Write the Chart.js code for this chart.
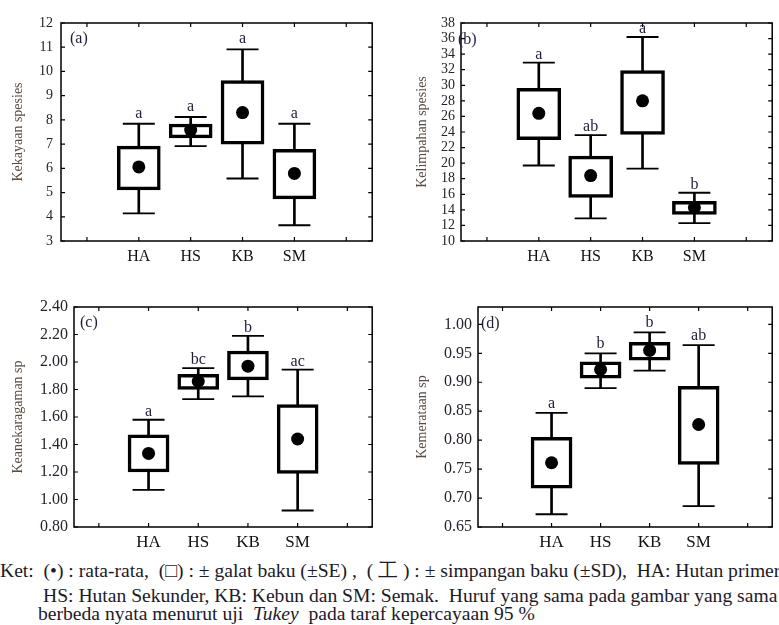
<!DOCTYPE html>
<html>
<head>
<meta charset="utf-8">
<script src="https://cdn.jsdelivr.net/npm/chart.js@4"></script>
<style>
  html, body { margin: 0; padding: 0; background: #fff; }
  body { width: 779px; height: 625px; position: relative; overflow: hidden; }
  canvas { position: absolute; }
  .ket { position: absolute; white-space: pre; font: 19.6px 'Liberation Serif', 'Times New Roman', serif; line-height: 20px; color: #1c1a2a; }
</style>
</head>
<body>
<canvas id="chartA" width="390" height="270" style="left:0;top:0"></canvas>
<canvas id="chartB" width="400" height="270" style="left:390px;top:0"></canvas>
<canvas id="chartC" width="390" height="275" style="left:0;top:280px"></canvas>
<canvas id="chartD" width="400" height="275" style="left:390px;top:280px"></canvas>

<div class="ket" style="left:0;top:561px">Ket:  (•) : rata-rata,  (□) : ± galat baku (±SE) ,  ( 工 ) : ± simpangan baku (±SD),  HA: Hutan primer,</div>
<div class="ket" style="left:43px;top:586px">HS: Hutan Sekunder, KB: Kebun dan SM: Semak.  Huruf yang sama pada gambar yang sama</div>
<div class="ket" style="left:38px;top:604px">berbeda nyata menurut uji  <i>Tukey</i>  pada taraf kepercayaan 95 %</div>

<script>
const sites = ['HA', 'HS', 'KB', 'SM'];

// (a) kekayaan spesies
const kekayaanMean = [6.06, 7.58, 8.30, 5.79];
const kekayaanSE = [[5.11, 6.92], [7.26, 7.83], [7.00, 9.62], [4.74, 6.78]];
const kekayaanSD = [[4.14, 7.84], [6.92, 8.12], [5.58, 10.91], [3.65, 7.84]];
const kekayaanHuruf = ['a', 'a', 'a', 'a'];

// (b) kelimpahan spesies
const kelimpahanMean = [26.4, 18.4, 28.0, 14.3];
const kelimpahanSE = [[23.0, 29.6], [15.6, 20.9], [23.7, 31.9], [13.4, 15.1]];
const kelimpahanSD = [[19.7, 32.9], [12.9, 23.6], [19.3, 36.2], [12.3, 16.2]];
const kelimpahanHuruf = ['a', 'ab', 'a', 'b'];

// (c) keanekaragaman
const keanekaragamanMean = [1.335, 1.86, 1.97, 1.44];
const keanekaragamanSE = [[1.20, 1.47], [1.80, 1.91], [1.87, 2.08], [1.19, 1.69]];
const keanekaragamanSD = [[1.07, 1.58], [1.73, 1.955], [1.75, 2.19], [0.92, 1.945]];
const keanekaragamanHuruf = ['a', 'bc', 'b', 'ac'];

// (d) kemerataan
const kemerataanMean = [0.761, 0.922, 0.955, 0.827];
const kemerataanSE = [[0.717, 0.805], [0.907, 0.9355], [0.938, 0.969], [0.758, 0.893]];
const kemerataanSD = [[0.672, 0.847], [0.89, 0.95], [0.92, 0.986], [0.686, 0.964]];
const kemerataanHuruf = ['a', 'b', 'b', 'ab'];

const serif = "'Liberation Serif', 'Times New Roman', serif";

// box frame with small inward ticks
const framePlugin = {
  id: 'frame',
  beforeDatasetsDraw(chart) {
    const { ctx, chartArea: a, scales: { x, y } } = chart;
    ctx.save();
    ctx.strokeStyle = '#000';
    ctx.lineWidth = 1.5;
    ctx.strokeRect(a.left, a.top, a.right - a.left, a.bottom - a.top);
    ctx.lineWidth = 1.2;
    ctx.beginPath();
    y.ticks.forEach((t, i) => {
      const py = y.getPixelForTick(i);
      ctx.moveTo(a.left, py); ctx.lineTo(a.left + 4, py);
      ctx.moveTo(a.right, py); ctx.lineTo(a.right - 4, py);
    });
    x.ticks.forEach((t, i) => {
      const px = x.getPixelForTick(i);
      ctx.moveTo(px, a.top); ctx.lineTo(px, a.top + 4);
      ctx.moveTo(px, a.bottom); ctx.lineTo(px, a.bottom - 4);
    });
    ctx.stroke();
    ctx.restore();
  }
};

// Tukey letters above the SD caps + panel tag
const hurufPlugin = {
  id: 'huruf',
  afterDatasetsDraw(chart, args, opts) {
    const { ctx, chartArea: a } = chart;
    const caps = chart.getDatasetMeta(1).data;
    ctx.save();
    ctx.fillStyle = '#1f1d3a';
    ctx.font = '16px ' + serif;
    ctx.textAlign = 'center';
    ctx.textBaseline = 'alphabetic';
    opts.letters.forEach((h, i) => {
      const pt = caps[i + 1];
      ctx.fillText(h, pt.x, pt.y - opts.gap);
    });
    ctx.textAlign = 'left';
    ctx.textBaseline = 'middle';
    ctx.fillText(opts.tag, a.left + opts.tagX, a.top + opts.tagY);
    ctx.restore();
  }
};

function makeChart(id, cfg) {
  const pad = v => [null, ...v, null];
  new Chart(document.getElementById(id), {
    type: 'bar',
    data: {
      labels: ['', ...sites, ''],
      datasets: [
        {
          type: 'line', data: pad(cfg.mean), showLine: false,
          pointRadius: 6.5, pointBackgroundColor: '#000', pointBorderWidth: 0, order: 0
        },
        {
          type: 'line', data: pad(cfg.sd.map(d => d[1])), showLine: false,
          pointStyle: 'line', pointRadius: 16, pointBorderColor: '#000', pointBorderWidth: 1.8, order: 1
        },
        {
          type: 'line', data: pad(cfg.sd.map(d => d[0])), showLine: false,
          pointStyle: 'line', pointRadius: 16, pointBorderColor: '#000', pointBorderWidth: 1.8, order: 1
        },
        {
          data: pad(cfg.se), grouped: false, barThickness: cfg.boxW,
          backgroundColor: '#fff', borderColor: '#000', borderWidth: 3.5, borderSkipped: false, order: 2
        },
        {
          data: pad(cfg.sd), grouped: false, barThickness: 2,
          backgroundColor: '#000', borderWidth: 0, order: 3
        }
      ]
    },
    options: {
      responsive: false,
      animation: false,
      devicePixelRatio: 1,
      events: [],
      layout: { padding: { top: cfg.top, right: cfg.right, left: 0, bottom: 0 } },
      scales: {
        x: {
          grid: { display: false, drawTicks: false },
          border: { display: false },
          ticks: {
            color: '#111',
            font: { family: serif, size: cfg.xFont },
            padding: cfg.xPad,
            maxRotation: 0,
            autoSkip: false
          },
          afterFit: s => { s.height = cfg.xH; }
        },
        y: {
          min: cfg.min,
          max: cfg.max,
          grid: { display: false, drawTicks: false },
          border: { display: false },
          ticks: {
            stepSize: cfg.step,
            autoSkip: false,
            includeBounds: false,
            color: '#2a2030',
            font: { family: serif, size: cfg.yFont },
            padding: cfg.yPad,
            callback: v => v.toFixed(cfg.dec)
          },
          title: {
            display: true,
            text: cfg.title,
            color: '#5a4a40',
            font: { family: serif, size: 14 },
            padding: { top: cfg.titlePad, bottom: 0 }
          },
          afterFit: s => { s.width = cfg.yW; }
        }
      },
      plugins: {
        legend: { display: false },
        tooltip: { enabled: false },
        huruf: { letters: cfg.letters, gap: cfg.gap, tag: cfg.tag, tagX: cfg.tagX, tagY: cfg.tagY }
      }
    },
    plugins: [framePlugin, hurufPlugin]
  });
}

makeChart('chartA', {
  mean: kekayaanMean, se: kekayaanSE, sd: kekayaanSD, letters: kekayaanHuruf,
  title: 'Kekayaan spesies', tag: '(a)', tagX: 9, tagY: 16, gap: 6,
  min: 3, max: 12, step: 1, dec: 0,
  top: 23, right: 2, yW: 61, xH: 29, yPad: 8, xPad: 6, titlePad: 10,
  yFont: 14, xFont: 16, boxW: 43
});

makeChart('chartB', {
  mean: kelimpahanMean, se: kelimpahanSE, sd: kelimpahanSD, letters: kelimpahanHuruf,
  title: 'Kelimpahan spesies', tag: '(b)', tagX: -3, tagY: 17, gap: 4,
  min: 10, max: 38, step: 2, dec: 0,
  top: 23, right: 1, yW: 71, xH: 29, yPad: 6, xPad: 6, titlePad: 24,
  yFont: 14, xFont: 16, boxW: 44
});

makeChart('chartC', {
  mean: keanekaragamanMean, se: keanekaragamanSE, sd: keanekaragamanSD, letters: keanekaragamanHuruf,
  title: 'Keanekaragaman sp', tag: '(c)', tagX: 6, tagY: 16, gap: 4,
  min: 0.8, max: 2.4, step: 0.2, dec: 2,
  top: 27, right: 3, yW: 74, xH: 28, yPad: 6, xPad: 5, titlePad: 10,
  yFont: 16, xFont: 17, boxW: 41
});

makeChart('chartD', {
  mean: kemerataanMean, se: kemerataanSE, sd: kemerataanSD, letters: kemerataanHuruf,
  title: 'Kemerataan sp', tag: '(d)', tagX: 3, tagY: 17, gap: 5,
  min: 0.65, max: 1.03, step: 0.05, dec: 2,
  top: 27, right: 0, yW: 88, xH: 28, yPad: 6, xPad: 5, titlePad: 24,
  yFont: 16, xFont: 17, boxW: 41
});
</script>
</body>
</html>
